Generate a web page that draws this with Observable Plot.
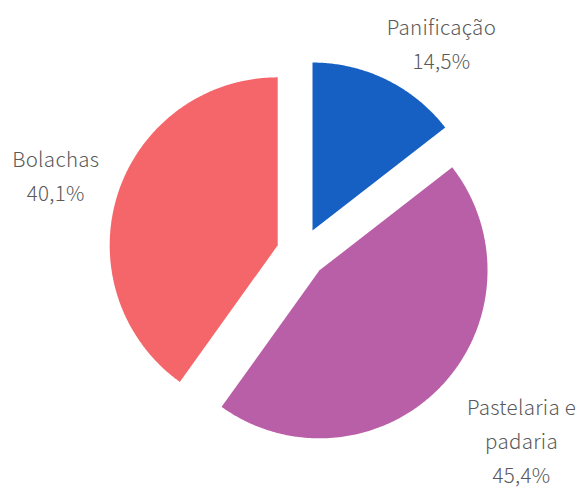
<!DOCTYPE html>
<html>
<head>
<meta charset="utf-8">
<script src="https://cdn.jsdelivr.net/npm/d3@7"></script>
<script src="https://cdn.jsdelivr.net/npm/@observablehq/plot@0.6"></script>
<style>
  html, body { margin: 0; padding: 0; background: #fff; }
  #chart { width: 582px; height: 490px; }
  #chart text { letter-spacing: 0.3px; }
</style>
</head>
<body>
<div id="chart"></div>
<script>
// Data
const categories = ["Panificação", "Pastelaria e padaria", "Bolachas"];
const shares = [14.5, 45.4, 40.1];
const valueLabels = ["14,5%", "45,4%", "40,1%"];
const labelNames = ["Panificação", "Pastelaria e\npadaria", "Bolachas"];
const colors = ["#1660C3", "#B85FA7", "#F4666A"];

// Layout (pixels)
const W = 582, H = 490;
const R = 168;            // pie radius in px
const CX = 301, CY = 252.5; // pie centre in px
const explode = 25 / R;   // explosion distance (radius units)
const labelOffsets = [[55, -39], [81, 51], [-62, -21]]; // px from slice outer mid-point

const total = d3.sum(shares);
let acc = 0;
const slices = categories.map((c, i) => {
  const a0 = acc / total * 2 * Math.PI;
  acc += shares[i];
  const a1 = acc / total * 2 * Math.PI;
  const am = (a0 + a1) / 2;
  const ox = explode * Math.sin(am), oy = explode * Math.cos(am);
  return {cat: c, i, a0, a1, am, ox, oy};
});

const pts = [];
for (const s of slices) {
  pts.push({cat: s.cat, x: s.ox, y: s.oy});
  const n = Math.max(2, Math.ceil((s.a1 - s.a0) / (Math.PI / 360)));
  for (let k = 0; k <= n; k++) {
    const a = s.a0 + (s.a1 - s.a0) * k / n;
    pts.push({cat: s.cat, x: s.ox + Math.sin(a), y: s.oy + Math.cos(a)});
  }
  pts.push({cat: s.cat, x: s.ox, y: s.oy});
}

const labels = slices.map(s => {
  const outerX = s.ox + Math.sin(s.am), outerY = s.oy + Math.cos(s.am);
  const [dx, dy] = labelOffsets[s.i];
  return {
    x: outerX + dx / R,
    y: outerY - dy / R,
    text: labelNames[s.i] + "\n" + valueLabels[s.i]
  };
});

const chart = Plot.plot({
  width: W,
  height: H,
  margin: 0,
  x: {domain: [-CX / R, (W - CX) / R], axis: null},
  y: {domain: [-(H - CY) / R, CY / R], axis: null},
  color: {domain: categories, range: colors},
  style: {background: "#fff", fontFamily: "'Noto Sans CJK JP', 'Noto Sans', sans-serif"},
  marks: [
    Plot.line(pts, {x: "x", y: "y", z: "cat", fill: "cat", stroke: "none", curve: "linear"}),
    Plot.text(labels, {
      x: "x", y: "y", text: "text",
      fontSize: 20.5, fontWeight: 300, lineHeight: 1.66, fill: "#595959",
      textAnchor: "middle", lineAnchor: "middle"
    })
  ]
});
document.getElementById("chart").appendChild(chart);
</script>
</body>
</html>
